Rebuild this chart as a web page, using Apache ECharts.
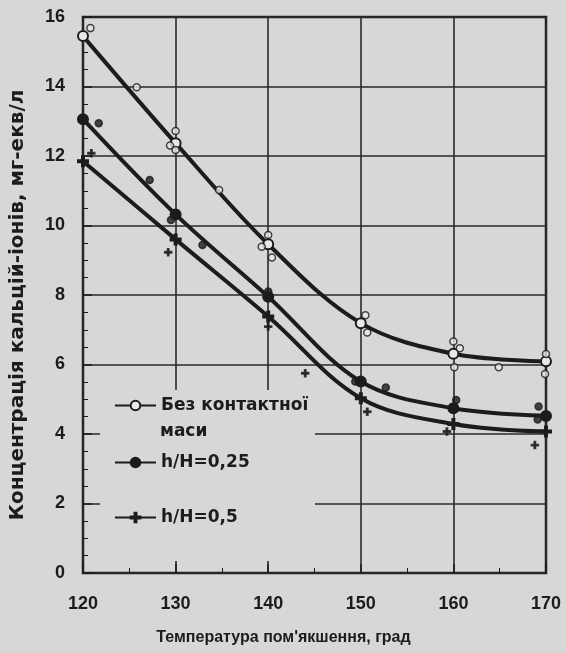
<!DOCTYPE html>
<html>
<head>
<meta charset="utf-8">
<script src="https://cdn.jsdelivr.net/npm/echarts@6/dist/echarts.min.js"></script>
<style>
  html, body { margin: 0; padding: 0; background: #d7d7d7; }
  #chart { width: 566px; height: 653px; }
</style>
</head>
<body>
<div id="chart"></div>
<script>
// температура, град
var temps = [120, 130, 140, 150, 160, 170];
// основні точки кривих
var baseVals = [15.45, 12.37, 9.46, 7.19, 6.31, 6.09];
var h025Vals = [13.06, 10.32, 7.95, 5.51, 4.74, 4.52];
var h05Vals = [11.85, 9.6, 7.38, 5.03, 4.29, 4.07];
// розкид експериментальних точок
var baseExtraX = [120.8, 125.8, 130, 129.4, 130, 134.7, 140, 139.3, 140.4, 150.5, 150.7, 160, 160.7, 160.1, 164.9, 170, 169.9];
var baseExtraY = [15.68, 13.98, 12.72, 12.3, 12.17, 11.02, 9.73, 9.39, 9.08, 7.42, 6.92, 6.66, 6.47, 5.92, 5.92, 6.3, 5.73];
var h025ExtraX = [121.7, 127.2, 129.5, 132.9, 140, 149.4, 152.7, 160.3, 169.2, 169.1];
var h025ExtraY = [12.94, 11.31, 10.16, 9.44, 8.1, 5.51, 5.34, 4.98, 4.79, 4.42];
var h05ExtraX = [120.9, 129.2, 140, 144, 150.7, 159.3, 168.8];
var h05ExtraY = [12.08, 9.23, 7.09, 5.75, 4.64, 4.07, 3.68];
var yTicks = [0, 2, 4, 6, 8, 10, 12, 14, 16];
var xTicks = [120, 130, 140, 150, 160, 170];

var names = ['Без контактної маси', 'h/H=0,25', 'h/H=0,5'];
var ink = '#1c1c1c';
var bg = '#d7d7d7';
var font = '"Liberation Sans", Arial, sans-serif';
var wideFont = '"DejaVu Sans", sans-serif';
var plusPath = 'path://M4,0h2v4h4v2h-4v4h-2v-4h-4v-2h4z';

function pairs(xs, ys) {
  var out = [];
  for (var i = 0; i < xs.length; i++) out.push([xs[i], ys[i]]);
  return out;
}

var myChart = echarts.init(document.getElementById('chart'));

function lineSeries(name, vals, symbol, fill) {
  return {
    name: name,
    type: 'line',
    smooth: 0.35,
    data: pairs(temps, vals),
    symbol: symbol,
    symbolSize: 10,
    lineStyle: { color: ink, width: 4 },
    itemStyle: { color: fill, borderColor: ink, borderWidth: 2 },
    z: 3
  };
}
function dotSeries(xs, ys, symbol, fill) {
  return {
    type: 'scatter',
    data: pairs(xs, ys),
    symbol: symbol,
    symbolSize: 7,
    itemStyle: { color: fill, borderColor: ink, borderWidth: 1.5 },
    z: 4
  };
}

var legendBase = {
  orient: 'vertical',
  padding: 0,
  itemWidth: 41,
  itemHeight: 12,
  textStyle: { color: ink, fontFamily: wideFont, fontWeight: 'bold', fontSize: 17 },
  left: 114
};

var option = {
  backgroundColor: bg,
  animation: false,
  grid: {
    left: 83, right: 20, top: 17, bottom: 80,
    show: true, borderColor: ink, borderWidth: 2.5
  },
  xAxis: {
    type: 'value', min: 120, max: 170, interval: 10,
    name: 'Температура пом\'якшення, град',
    nameLocation: 'middle', nameGap: 57,
    nameTextStyle: { color: ink, fontFamily: font, fontWeight: 'bold', fontSize: 16, padding: [0, 62, 0, 0] },
    axisLine: { show: false },
    axisTick: { show: true, inside: true, length: 9, lineStyle: { color: ink, width: 1.5 } },
    minorTick: { show: true, splitNumber: 2, length: 5, lineStyle: { color: ink } },
    axisLabel: {
      color: ink, fontFamily: font, fontWeight: 'bold', fontSize: 18, margin: 22,
      formatter: function (v) { return xTicks.indexOf(v) >= 0 ? String(v) : ''; }
    },
    splitLine: { show: true, lineStyle: { color: '#2a2a2a', width: 1.6 } }
  },
  yAxis: {
    type: 'value', min: 0, max: 16, interval: 2,
    name: 'Концентрація кальцій-іонів, мг-екв/л',
    nameLocation: 'middle', nameGap: 55, nameRotate: 90,
    nameTextStyle: { color: ink, fontFamily: wideFont, fontWeight: 'bold', fontSize: 20, padding: [0, 20, 0, 0] },
    axisLine: { show: false },
    axisTick: { show: true, inside: true, length: 9, lineStyle: { color: ink, width: 1.5 } },
    minorTick: { show: true, splitNumber: 4, length: 5, lineStyle: { color: ink } },
    axisLabel: {
      color: ink, fontFamily: font, fontWeight: 'bold', fontSize: 18, margin: 18,
      formatter: function (v) { return yTicks.indexOf(v) >= 0 ? String(v) : ''; }
    },
    splitLine: { show: true, lineStyle: { color: '#2a2a2a', width: 1.6 } }
  },
  legend: [
    Object.assign({}, legendBase, { data: [names[0]], top: 397,
      formatter: function () { return 'Без контактної'; } }),
    Object.assign({}, legendBase, { data: [names[1]], top: 454 }),
    Object.assign({}, legendBase, { data: [names[2]], top: 509 })
  ],
  graphic: [
    { type: 'rect', z: 1, silent: true,
      shape: { x: 100, y: 390, width: 215, height: 171 },
      style: { fill: bg } },
    { type: 'text', z: 5, left: 160, top: 423,
      style: { text: 'маси', fill: ink, font: 'bold 17px ' + wideFont } }
  ],
  series: [
    lineSeries(names[0], baseVals, 'circle', '#e8e8e8'),
    lineSeries(names[1], h025Vals, 'circle', ink),
    lineSeries(names[2], h05Vals, plusPath, ink),
    dotSeries(baseExtraX, baseExtraY, 'circle', '#e8e8e8'),
    dotSeries(h025ExtraX, h025ExtraY, 'circle', ink),
    dotSeries(h05ExtraX, h05ExtraY, plusPath, ink)
  ]
};

myChart.setOption(option);
</script>
</body>
</html>
